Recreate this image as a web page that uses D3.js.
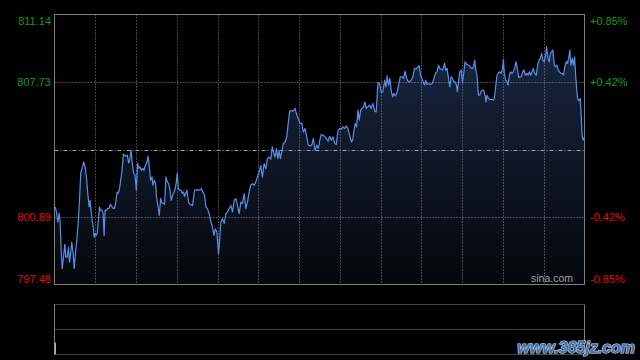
<!DOCTYPE html>
<html><head><meta charset="utf-8">
<script src="https://cdn.jsdelivr.net/npm/d3@7/dist/d3.min.js"></script>
<style>html,body{margin:0;padding:0;background:#000;}svg{display:block;}</style>
</head><body>
<svg id="c" width="640" height="360"></svg>
<script>
// minutes since open (0..390) and prices
const times = [0.5,1.5,2.4,3.5,4.2,4.9,5.7,6.6,7.6,8.3,9.3,10.3,11.0,12.0,12.7,13.7,14.5,15.4,16.4,17.4,18.4,19.3,20.6,21.5,22.5,23.5,24.5,25.5,26.2,27.0,27.7,28.4,29.2,29.9,30.6,31.4,32.1,33.1,34.0,35.0,35.8,36.5,37.2,38.2,39.1,40.2,41.1,42.1,43.1,44.1,45.0,46.1,46.8,47.7,48.7,49.7,50.7,51.6,52.7,53.6,54.6,55.3,56.3,57.3,58.2,59.3,60.2,61.2,62.2,62.9,63.9,64.9,65.9,66.8,67.8,68.8,69.8,70.7,71.8,72.5,73.4,74.4,75.1,76.2,77.1,78.1,79.1,80.1,81.0,82.0,83.0,84.0,85.0,85.9,86.9,87.9,88.9,89.8,90.3,91.1,92.0,93.1,94.0,95.0,95.7,
97.5,98.6,99.9,101.6,103.0,104.8,106.5,108.0,109.2,110.4,111.4,112.6,113.8,115.1,116.3,117.3,118.3,119.5,120.7,121.4,122.4,123.6,124.9,126.1,127.3,128.5,129.8,131.0,132.2,133.5,134.6,135.9,137.1,138.3,139.6,140.8,142.0,143.2,144.5,145.7,146.9,148.1,149.3,150.6,151.8,153.0,154.2,155.5,156.7,157.9,159.2,160.3,161.4,162.3,163.3,164.3,165.3,166.2,167.2,168.4,169.7,170.9,172.1,173.1,174.6,175.8,177.0,178.3,179.4,180.7,181.9,183.1,184.4,185.6,186.8,188.0,189.3,190.5,191.7,193.0,194.1,
195.2,196.3,197.6,198.8,200.0,201.3,202.5,203.7,204.9,206.2,207.3,208.6,209.8,211.0,212.3,213.5,214.7,215.9,217.2,218.4,219.4,220.4,221.3,222.3,223.3,224.2,225.3,226.2,227.5,228.4,229.4,230.6,231.9,233.1,234.3,235.6,236.7,238.0,239.2,240.4,241.7,242.9,243.9,244.8,245.8,246.8,247.7,248.8,249.7,250.7,251.9,253.2,254.4,255.6,256.9,258.0,259.1,260.0,261.3,262.4,263.7,264.9,266.1,267.4,268.3,269.3,270.3,271.3,272.3,273.2,274.2,275.4,276.7,277.9,279.1,280.4,281.5,282.6,283.5,284.5,285.7,287.0,287.9,288.9,289.9,
290.9,291.8,292.8,293.8,294.8,295.8,296.5,297.3,298.2,299.2,300.2,301.1,302.1,303.1,304.3,305.6,306.8,308.0,309.2,310.0,310.9,311.9,312.9,313.8,314.9,315.8,316.8,317.5,318.3,319.3,320.2,321.5,322.7,323.7,324.6,325.6,326.6,327.6,328.5,329.6,330.3,331.0,332.0,332.9,333.7,334.7,335.7,336.6,337.6,338.6,339.6,340.6,341.5,342.5,343.5,344.5,345.4,346.5,347.4,348.4,349.4,350.4,351.3,352.3,353.3,354.5,355.5,356.5,357.5,358.4,359.4,360.4,361.4,362.1,363.1,364.1,364.8,365.8,366.7,367.8,368.7,369.7,370.7,371.7,372.6,373.6,374.6,375.5,376.6,377.5,378.5,379.2,380.0,381.0,381.9,382.7,383.4,384.1,384.9,385.8,386.9,387.6,388.3,389.1,389.8];
const prices = [801.40,801.15,800.64,801.09,800.57,799.20,798.29,798.86,799.51,798.86,798.86,799.36,798.61,799.12,799.62,799.05,798.29,799.05,799.71,800.57,801.74,803.11,803.43,803.68,803.46,802.92,802.09,801.40,801.74,801.15,800.72,800.47,799.88,800.07,799.96,800.07,800.57,801.40,801.23,801.23,801.08,799.96,801.23,801.23,801.33,801.33,801.54,801.43,801.33,801.33,801.59,802.16,802.09,802.25,802.75,803.26,804.07,804.02,803.97,804.02,803.63,803.77,804.27,803.61,803.11,803.01,802.25,803.61,803.36,803.43,803.26,803.36,803.26,803.51,803.61,803.97,803.43,802.75,802.92,802.50,802.75,802.60,801.90,801.40,800.98,801.84,801.59,801.59,801.54,802.92,802.67,802.60,802.25,801.74,801.99,802.16,802.35,802.75,803.11,802.35,802.25,802.25,802.09,802.16,801.94,
802.25,801.65,801.52,801.48,802.25,802.28,802.25,802.33,802.16,801.99,801.40,801.32,801.06,800.64,800.38,799.96,800.30,800.13,799.04,799.62,800.64,800.81,800.56,801.06,801.15,801.32,801.48,801.15,801.74,801.82,801.48,801.06,801.65,801.57,802.08,801.32,801.65,802.16,802.53,802.58,802.50,802.67,802.92,803.17,803.51,802.92,803.60,803.34,803.85,803.93,803.82,804.44,804.11,803.93,804.36,803.85,804.27,803.85,804.19,804.61,804.69,804.95,805.71,806.26,806.26,806.26,806.39,806.05,805.88,805.63,805.63,805.20,805.37,804.95,804.53,804.49,804.53,804.87,804.27,804.53,804.36,
804.78,805.07,805.03,804.98,804.87,804.73,804.98,804.78,804.95,804.61,804.56,805.24,805.37,805.34,805.45,805.37,805.50,805.37,805.03,804.69,804.78,805.29,805.63,805.45,806.30,805.79,806.30,806.39,806.47,806.72,806.39,806.47,806.55,806.39,806.64,806.25,806.21,807.70,807.65,807.20,807.23,807.82,807.48,808.04,807.57,807.91,807.31,806.97,807.15,807.02,807.15,807.57,807.99,807.99,807.91,808.28,807.91,807.77,807.73,807.82,807.99,808.41,808.38,808.49,808.55,808.07,807.91,807.73,807.57,807.82,807.60,807.65,807.60,807.65,807.87,808.16,808.24,808.58,808.41,808.38,808.33,808.67,808.33,808.41,807.91,
807.48,807.99,807.91,807.73,807.73,807.57,807.23,807.73,808.24,808.33,807.73,808.16,808.75,808.63,808.58,808.53,808.41,808.41,808.83,808.33,808.07,807.06,807.06,807.23,807.31,807.31,807.06,806.72,807.06,806.89,806.84,806.84,806.81,806.89,807.48,808.07,808.19,808.24,808.16,808.33,808.87,808.16,807.82,807.73,807.57,808.07,808.24,808.16,808.24,808.41,808.75,808.41,807.96,807.99,807.99,808.24,808.33,808.07,808.16,808.07,808.24,808.07,808.24,808.41,808.16,808.07,808.58,808.83,808.92,809.17,808.83,808.75,809.09,809.51,808.92,808.75,809.17,809.25,809.34,808.58,808.49,808.58,808.33,808.24,808.16,808.16,808.07,808.49,808.75,808.67,809.00,809.34,808.58,808.92,808.58,809.00,808.16,807.48,806.89,806.77,806.89,805.96,804.95,804.78,804.95];

const prevClose = 804.31;
const priceTicks = [811.14, 807.73, 800.89, 797.48];
const pctTicks = ["+0.85%", "+0.42%", "-0.42%", "-0.85%"];
const gridMinutes = d3.range(30, 390, 30);
const volTimes = [0];
const volumes = [2.4];

const svg = d3.select("#c");
const L = 54.5, R = 584.5, T = 14.5, B = 284.5;
const x = d3.scaleLinear().domain([0, 390]).range([L, R]);
const y = d3.scaleLinear().domain([797.48, 811.14]).range([B, T]);

svg.append("rect").attr("width",640).attr("height",360).attr("fill","#000");

const defs = svg.append("defs");
const g = defs.append("linearGradient").attr("id","fillg").attr("gradientUnits","userSpaceOnUse")
  .attr("x1",0).attr("x2",0).attr("y1",T).attr("y2",B);
g.append("stop").attr("offset","0%").attr("stop-color","#1a2a48");
g.append("stop").attr("offset","100%").attr("stop-color","#05070b");

const data = times.map((t,i)=>({t, p: prices[i]}));

// area
svg.append("path").datum(data)
  .attr("d", d3.area().x(d=>x(d.t)).y0(B).y1(d=>y(d.p)))
  .attr("fill","url(#fillg)");

// grid
const gridCol = "#8a8a8a";
svg.selectAll("line.vg").data(gridMinutes).enter().append("line")
  .attr("x1",d=>Math.round(x(d))+0.5).attr("x2",d=>Math.round(x(d))+0.5)
  .attr("y1",T).attr("y2",B)
  .attr("stroke",gridCol).attr("stroke-width",1).attr("stroke-dasharray","1,2");
svg.selectAll("line.hg").data([807.73, 800.89]).enter().append("line")
  .attr("x1",L).attr("x2",R)
  .attr("y1",d=>Math.round(y(d))+0.5).attr("y2",d=>Math.round(y(d))+0.5)
  .attr("stroke",gridCol).attr("stroke-width",1).attr("stroke-dasharray","1,2");
svg.append("line")
  .attr("x1",L).attr("x2",R)
  .attr("y1",Math.round(y(prevClose))+0.5).attr("y2",Math.round(y(prevClose))+0.5)
  .attr("stroke","#a0a0a0").attr("stroke-width",1).attr("stroke-dasharray","4,2,1,2");

// line
svg.append("path").datum(data)
  .attr("d", d3.line().x(d=>x(d.t)).y(d=>y(d.p)))
  .attr("fill","none").attr("stroke","#5890e8").attr("stroke-width",1.2)
  .attr("stroke-linejoin","round");

// border
svg.append("rect").attr("x",L).attr("y",T).attr("width",R-L).attr("height",B-T)
  .attr("fill","none").attr("stroke","#808080").attr("stroke-width",1);

// labels
const font = "'Liberation Sans', Arial, sans-serif";
const colFor = v => v > prevClose ? "#1a9c1a" : "#e01010";
const labY = (v,i) => i===0 ? y(v)+10 : (i===priceTicks.length-1 ? y(v)-2 : y(v)+4);
svg.selectAll("text.pl").data(priceTicks).enter().append("text")
  .attr("x",51).attr("y",(d,i)=>labY(d,i))
  .attr("text-anchor","end").attr("font-family",font).attr("font-size",11)
  .attr("fill",d=>colFor(d)).text(d=>d.toFixed(2));
svg.selectAll("text.pr").data(priceTicks).enter().append("text")
  .attr("x",590).attr("y",(d,i)=>labY(d,i))
  .attr("text-anchor","start").attr("font-family",font).attr("font-size",11)
  .attr("fill",d=>colFor(d)).text((d,i)=>pctTicks[i]);

svg.append("text").attr("x",573).attr("y",282).attr("text-anchor","end")
  .attr("font-family",font).attr("font-size",10.5).attr("fill","#a0a0a0").text("sina.com");

// volume panel
const VT = 304.5, VB = 354.5;
const yv = d3.scaleLinear().domain([0, 10]).range([VB, VT]);
svg.selectAll("line.vh").data([VT, (VT+VB)/2, VB]).enter().append("line")
  .attr("x1",L).attr("x2",R).attr("y1",d=>d).attr("y2",d=>d)
  .attr("stroke",gridCol).attr("stroke-width",1).attr("stroke-dasharray","1,1");
svg.selectAll("line.vs").data([L, R]).enter().append("line")
  .attr("x1",d=>d).attr("x2",d=>d).attr("y1",VT).attr("y2",VB)
  .attr("stroke","#808080").attr("stroke-width",1);
svg.selectAll("rect.vol").data(volTimes).enter().append("rect")
  .attr("x",d=>x(d)).attr("width",1.5)
  .attr("y",(d,i)=>yv(volumes[i])).attr("height",(d,i)=>VB-yv(volumes[i]))
  .attr("fill","#b0b0b0");

// watermark
svg.append("text").attr("x",635).attr("y",353).attr("text-anchor","end")
  .attr("font-family","'Liberation Sans', Arial, sans-serif").attr("font-weight","bold")
  .attr("font-style","italic").attr("font-size",16)
  .attr("fill","#3f6fae").attr("stroke","#d8e0ee").attr("stroke-width",1.2)
  .attr("paint-order","stroke").text("www.365jz.com");
</script>
</body></html>
